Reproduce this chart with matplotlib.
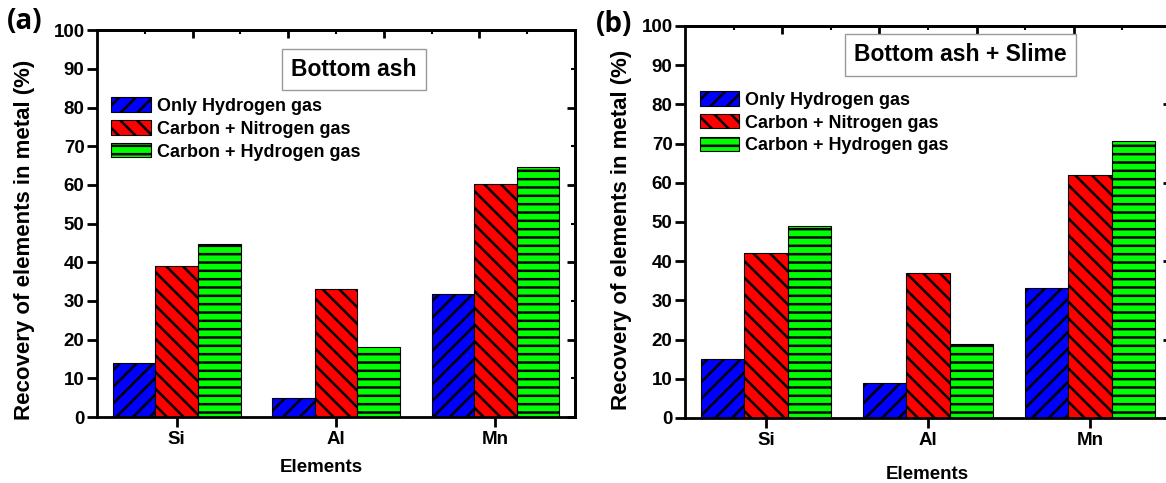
import numpy as np
import matplotlib
matplotlib.use('Agg')
import matplotlib.pyplot as plt

plt.rcParams['font.family'] = ['Liberation Sans', 'DejaVu Sans']
plt.rcParams['font.weight'] = 'bold'
plt.rcParams['hatch.linewidth'] = 1.8

elements = ['Si', 'Al', 'Mn']
series = ['Only Hydrogen gas', 'Carbon + Nitrogen gas', 'Carbon + Hydrogen gas']

# recovery (%)
ash_h2 = [14.0, 5.0, 31.7]
ash_c_n2 = [39.0, 33.1, 60.2]
ash_c_h2 = [44.8, 18.0, 64.7]

slime_h2 = [15.0, 8.8, 33.1]
slime_c_n2 = [42.0, 37.1, 61.9]
slime_c_h2 = [49.0, 19.0, 70.6]

colors = ['#0000ff', '#ff0000', '#00ff00']
hatches = ['//', '\\\\', '--']

fig = plt.figure(figsize=(11.66, 4.83), dpi=100)
ax1 = fig.add_axes([0.0832, 0.1366, 0.41, 0.801])
ax2 = fig.add_axes([0.5875, 0.1346, 0.4168, 0.8116])


def draw(ax, vals, title, tx, ty, leg_y):
    x = np.arange(1, len(elements) + 1)
    w = 0.267
    for i, v in enumerate(vals):
        ax.bar(x + (i - 1) * w, v, w, color=colors[i], hatch=hatches[i],
               edgecolor='black', linewidth=0.8, label=series[i])
    ax.set_xlim(0.5, 3.5)
    ax.set_ylim(0, 100)
    ax.set_xticks(x)
    ax.set_xticklabels(elements, fontsize=13.5, fontweight='bold')
    ax.set_yticks(np.arange(0, 101, 10))
    ax.tick_params(axis='both', direction='out', length=7, width=2, labelsize=13.5)
    ax.tick_params(axis='x', pad=3)
    ax.tick_params(axis='y', pad=2)
    for s in ax.spines.values():
        s.set_linewidth(2)

    top = ax.secondary_xaxis('top')
    top.set_xticks([1.1, 1.7, 2.3, 2.9])
    top.set_xticks([0.8, 1.4, 2.0, 2.6, 3.2], minor=True)
    top.tick_params(which='major', direction='in', length=6, width=2, labeltop=False)
    top.tick_params(which='minor', direction='in', length=3, width=1.5)
    top.spines['top'].set_linewidth(2)
    right = ax.secondary_yaxis('right')
    right.set_yticks([0, 20, 40, 60, 80, 100])
    right.set_yticks([10, 30, 50, 70, 90], minor=True)
    right.tick_params(which='major', direction='in', length=6, width=2, labelright=False)
    right.tick_params(which='minor', direction='in', length=3, width=1.5)
    right.spines['right'].set_linewidth(2)

    ax.text(tx, ty, title, transform=ax.transAxes, fontsize=16.5, fontweight='bold',
            ha='center', va='center',
            bbox=dict(boxstyle='square,pad=0.4', facecolor='white', edgecolor='#999999', linewidth=1))
    ax.legend(loc='upper left', bbox_to_anchor=(0.015, leg_y), frameon=False,
              prop={'size': 13, 'weight': 'bold'}, handlelength=2.2, handleheight=0.85,
              labelspacing=0.3, handletextpad=0.3, borderaxespad=0)


draw(ax1, [ash_h2, ash_c_n2, ash_c_h2], 'Bottom ash', 0.538, 0.898, 0.845)
draw(ax2, [slime_h2, slime_c_n2, slime_c_h2], 'Bottom ash + Slime', 0.566, 0.926, 0.852)

ylab = 'Recovery of elements in metal (%)'
fig.text(0.0214, 0.504, ylab, rotation=90, ha='center', va='center', fontsize=16, fontweight='bold')
fig.text(0.533, 0.524, ylab, rotation=90, ha='center', va='center', fontsize=16, fontweight='bold')
fig.text(0.2757, 0.033, 'Elements', ha='center', va='center', fontsize=13.5, fontweight='bold')
fig.text(0.7955, 0.0166, 'Elements', ha='center', va='center', fontsize=13.5, fontweight='bold')

fig.text(0.006, 0.955, '(a)', fontsize=20, fontweight='bold', family='Open Sans', va='center')
fig.text(0.511, 0.95, '(b)', fontsize=20, fontweight='bold', family='Open Sans', va='center')

fig.savefig('out.png', dpi=100)
